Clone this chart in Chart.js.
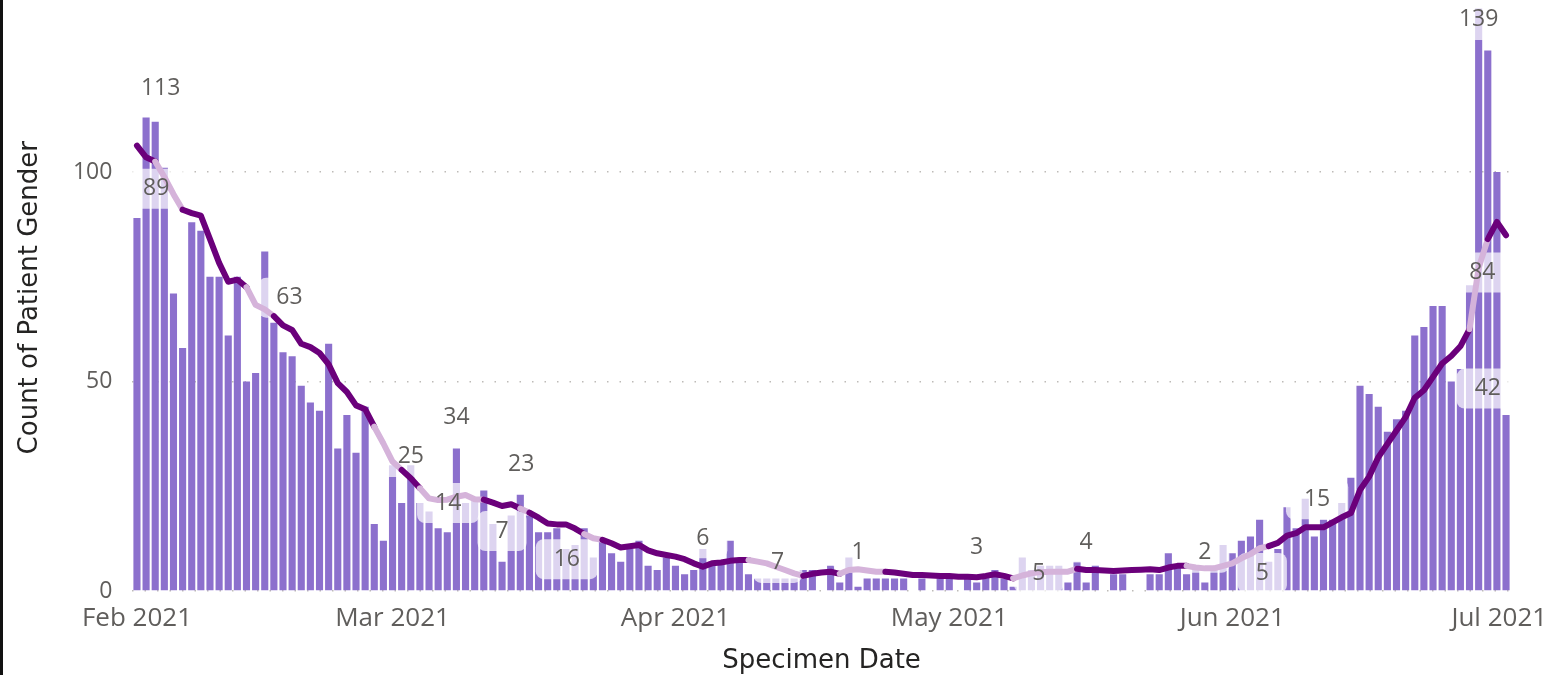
<!DOCTYPE html>
<html>
<head>
<meta charset="utf-8">
<script src="https://cdn.jsdelivr.net/npm/chart.js@4.4.1/dist/chart.umd.min.js"></script>
<style>
  html, body { margin: 0; padding: 0; background: #fff; }
  #wrap { position: relative; width: 1559px; height: 675px; overflow: hidden; }
  #edge { position: absolute; left: 0; top: 0; width: 3px; height: 675px; background: #111; }
</style>
</head>
<body>
<div id="wrap">
  <canvas id="specimenChart" width="1559" height="675"></canvas>
  <div id="edge"></div>
</div>
<script>
// one bar per specimen day, 1 Feb - 1 Jul 2021
const firstDay = '2021-02-01';
const lastDay = '2021-07-01';

// daily count of patient gender (bars)
const dailyCounts = [
  89, 113, 112, 101, 71, 58, 88, 86, 75, 75, 61, 75, 50, 52, 81, 64, 57, 56, 49, 45, 43, 59, 34, 42, 33, 44, 16, 12,
  30, 21, 30, 21, 19, 15, 14, 34, 21, 22, 24, 16, 7, 18, 23, 18, 14, 14, 15, 10, 11, 15, 8, 12, 9, 7, 10, 12, 6, 5, 8,
  6, 4, 5, 10, 7, 7, 12, 7, 4, 3, 3, 3, 3, 3, 5, 5, 0, 6, 2, 8, 1, 3, 3, 3, 3, 3, 0, 3, 0, 3,
  3, 0, 3, 2, 4, 5, 3, 1, 8, 5, 6, 6, 6, 2, 7, 2, 6, 0, 4, 4, 0, 0, 4, 4, 9, 6, 4, 6, 2, 5, 11,
  9, 12, 13, 17, 7, 10, 20, 15, 22, 13, 17, 17, 21, 27, 49, 47, 44, 38, 41, 43, 61, 63, 68, 68, 50, 53, 73, 139, 129, 100,
  42
];

// rolling average (line)
const rollingAvg = [
  106.3, 103.5, 102.5, 98.8, 94.7, 91.0, 90.2, 89.6, 84.0, 78.3, 73.8, 74.3, 72.5, 68.3, 67.2, 65.6, 63.4, 62.3, 59.0, 58.2, 56.8, 54.1, 49.6, 47.5, 44.3, 43.4, 39.2, 35.2,
  30.9, 28.9, 26.9, 24.5, 22.1, 21.7, 21.8, 22.5, 22.9, 21.9, 21.8, 21.1, 20.3, 20.7, 19.7, 18.7, 17.5, 16.1, 15.9, 15.9, 14.9, 13.6, 12.6, 12.2, 11.4, 10.4, 10.7, 11.0, 9.7, 9.0, 8.6,
  8.2, 7.6, 6.6, 5.8, 6.6, 6.8, 7.2, 7.4, 7.4, 7.0, 6.6, 5.8, 5.0, 4.2, 3.6, 4.1, 4.4, 4.6, 4.1, 5.0, 5.2, 4.9, 4.6, 4.6, 4.4, 4.1, 3.8, 3.8, 3.7, 3.6,
  3.6, 3.4, 3.4, 3.3, 3.6, 4.0, 3.6, 3.0, 3.7, 4.2, 4.5, 4.6, 4.6, 4.6, 5.3, 5.0, 5.0, 4.9, 4.8, 4.9, 5.0, 5.1, 5.2, 5.0, 5.6, 6.0, 6.0, 5.6, 5.4, 5.4, 6.0,
  6.6, 7.8, 8.8, 10.2, 10.7, 11.5, 13.2, 13.8, 15.2, 15.2, 15.2, 16.4, 17.6, 18.6, 24.1, 27.3, 31.9, 35.1, 38.3, 41.5, 46.1, 47.9, 51.1, 54.3, 56.1, 58.4, 62.5, 77.1, 84.0, 88.1,
  84.9
];

// x axis month ticks
const monthTickDates = ['2021-02-01', '2021-03-01', '2021-04-01', '2021-05-01', '2021-06-01', '2021-07-01'];
const monthTickLabels = ['Feb 2021', 'Mar 2021', 'Apr 2021', 'May 2021', 'Jun 2021', 'Jul 2021'];
const yTickValues = [0, 50, 100];

// data labels as shown (text, day index, level)
const labelTexts = ['113', '89', '63', '25', '34', '14', '7', '23', '16', '6', '7', '1', '3', '5', '4', '2', '5', '15', '139', '84', '42'];
const labelDays = [2.6, 2.1, 16.7, 30.0, 35.0, 34.1, 40.0, 42.1, 47.1, 62.0, 70.2, 79.0, 92.0, 98.8, 104.0, 117.0, 123.3, 129.3, 147.0, 147.4, 148.0];
const labelLevels = [120, 96, 70, 32, 41.5, 21, 14.3, 30.3, 7.6, 12.6, 6.7, 9.1, 10.3, 4.3, 11.6, 9.1, 4.3, 21.9, 136.3, 76, 48.3];

// stretches where the line sits behind a label and looks faded
const fadedRuns = [[2, 4], [12, 14], [26, 28], [31, 37], [42, 42], [49, 50], [67, 72], [77, 81], [96, 102], [115, 123], [146, 147]];

const BAR_COLOR = '#8C70CD';
const LINE_DARK = '#6B007B';
const LINE_FADED = '#D5B3DA';
const TICK_COLOR = '#605E5C';
const TITLE_COLOR = '#252423';
const X_TICK_FONT = { family: 'Open Sans', size: 26 };
const Y_TICK_FONT = { family: 'Open Sans', size: 23 };
const TITLE_FONT = { family: 'DejaVu Sans', size: 26 };
const LABEL_FONT = '23px "Open Sans"';

const dayLabels = [];
for (let d = new Date(firstDay + 'T00:00:00Z'); d <= new Date(lastDay + 'T00:00:00Z'); d.setUTCDate(d.getUTCDate() + 1)) {
    dayLabels.push(d.toISOString().slice(0, 10));
}

const isFaded = i => fadedRuns.some(([a, b]) => i >= a && i <= b);

function roundRect(c, x, y, w, h, r) {
    c.beginPath();
    c.moveTo(x + r, y);
    c.arcTo(x + w, y, x + w, y + h, r);
    c.arcTo(x + w, y + h, x, y + h, r);
    c.arcTo(x, y + h, x, y, r);
    c.arcTo(x, y, x + w, y, r);
    c.closePath();
}

// label backgrounds go over the bars but under the line, text on top of everything
const dataLabels = {
    id: 'dataLabels',
    afterDatasetDraw(chart, args) {
        if (chart.data.datasets[args.index].type !== 'bar') return;
        const c = chart.ctx;
        const { x, y } = chart.scales;
        c.save();
        c.font = LABEL_FONT;
        c.fillStyle = 'rgba(255,255,255,0.7)';
        labelTexts.forEach((t, i) => {
            const px = x.getPixelForValue(labelDays[i]);
            const py = y.getPixelForValue(labelLevels[i]);
            const w = c.measureText(t).width + 36;
            roundRect(c, px - w / 2, py - 20, w, 40, 8);
            c.fill();
        });
        c.restore();
    },
    afterDatasetsDraw(chart) {
        const c = chart.ctx;
        const { x, y } = chart.scales;
        c.save();
        c.font = LABEL_FONT;
        c.fillStyle = TICK_COLOR;
        c.textAlign = 'center';
        c.textBaseline = 'middle';
        labelTexts.forEach((t, i) => {
            c.fillText(t, x.getPixelForValue(labelDays[i]), y.getPixelForValue(labelLevels[i]));
        });
        c.restore();
    }
};

const ctx = document.getElementById('specimenChart').getContext('2d');

new Chart(ctx, {
    data: {
        labels: dayLabels,
        datasets: [
            {
                type: 'bar',
                label: 'Count of Patient Gender',
                data: dailyCounts,
                order: 1,
                backgroundColor: BAR_COLOR,
                categoryPercentage: 1,
                barPercentage: 0.78
            },
            {
                type: 'line',
                label: 'Rolling average',
                data: rollingAvg,
                order: 0,
                borderColor: LINE_DARK,
                borderWidth: 6,
                borderJoinStyle: 'round',
                borderCapStyle: 'round',
                pointRadius: 0,
                tension: 0,
                segment: {
                    borderColor: s => isFaded(s.p0DataIndex) ? LINE_FADED : LINE_DARK
                }
            }
        ]
    },
    options: {
        responsive: false,
        animation: false,
        layout: { autoPadding: false, padding: { left: 0, right: 48.4, top: 4.4, bottom: 0 } },
        plugins: { legend: { display: false }, tooltip: { enabled: false } },
        scales: {
            x: {
                offset: true,
                grid: { display: false, drawTicks: false },
                border: { display: false },
                ticks: {
                    autoSkip: false,
                    maxRotation: 0,
                    minRotation: 0,
                    padding: 12,
                    color: TICK_COLOR,
                    font: X_TICK_FONT,
                    callback: (v, i) => {
                        const k = monthTickDates.indexOf(dayLabels[i]);
                        if (k < 0) return '';
                        // last month label is pulled inside the frame
                        return k === monthTickLabels.length - 1 ? monthTickLabels[k] + '\u00a0\u00a0' : monthTickLabels[k];
                    }
                },
                title: { display: true, text: 'Specimen Date', color: TITLE_COLOR, font: TITLE_FONT, padding: { top: 0, bottom: -2 } },
                afterFit: s => {
                    s.height = 84;
                    s.paddingLeft = 0;
                    s.paddingRight = 0;
                }
            },
            y: {
                min: 0,
                max: 140,
                afterBuildTicks: s => { s.ticks = yTickValues.map(v => ({ value: v })); },
                grid: { color: '#BEBBB8', lineWidth: 1.5, drawTicks: false },
                border: { display: false, dash: [1.5, 11] },
                ticks: { padding: 20, color: TICK_COLOR, font: Y_TICK_FONT },
                title: { display: true, text: 'Count of Patient Gender', color: TITLE_COLOR, font: TITLE_FONT, padding: { top: 15, bottom: 0 } },
                afterFit: s => {
                    s.width = 132.4;
                    s.paddingTop = 0;
                    s.paddingBottom = 0;
                }
            }
        }
    },
    plugins: [dataLabels]
});
</script>
</body>
</html>
